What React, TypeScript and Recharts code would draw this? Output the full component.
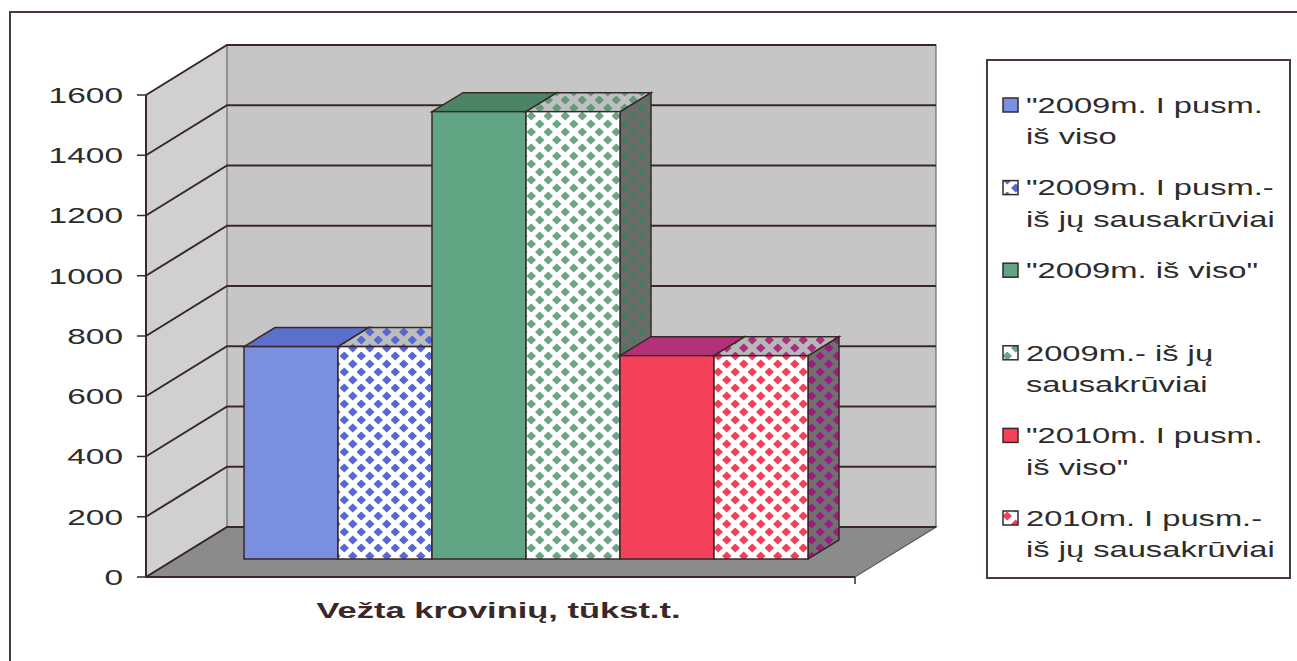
import { BarChart, Bar, XAxis, YAxis, CartesianGrid } from 'recharts'

const categories = ['Vežta krovinių, tūkst.t.']
const total2009H1 = [705]
const dry2009H1 = [705]
const total2009 = [1485]
const dry2009 = [1485]
const total2010H1 = [675]
const dry2010H1 = [675]
const yTicks = [0, 200, 400, 600, 800, 1000, 1200, 1400, 1600]

const legendLabels = [
    ['"2009m. I pusm.', 'iš viso'],
    ['"2009m. I pusm.-', 'iš jų sausakrūviai'],
    ['"2009m. iš viso"'],
    ['2009m.- iš jų', 'sausakrūviai'],
    ['"2010m. I pusm.', 'iš viso"'],
    ['2010m. I pusm.-', 'iš jų sausakrūviai'],
]

const keys = ['t09h1', 'd09h1', 't09', 'd09', 't10h1', 'd10h1']

const data = categories.map((name, i) => ({
    name,
    t09h1: total2009H1[i],
    d09h1: dry2009H1[i],
    t09: total2009[i],
    d09: dry2009[i],
    t10h1: total2010H1[i],
    d10h1: dry2010H1[i],
}))

// 3d look
const W = 1297
const H = 661
const PLOT_L = 146
const PLOT_T = 95
const PLOT_R = 855
const PLOT_B = 577
const BACK_DX = 81
const BACK_DY = -50
const SHIFT_X = 25
const SHIFT_Y = -18
const DEPTH_X = 31
const DEPTH_Y = -19
const TEXT_S = 1.52
const FONT = '"Liberation Sans", Arial, sans-serif'
const INK = '#3a2828'
const TXT = '#2c2c2c'

const styles = [
    { front: '#7b8fe0', top: '#5b6fcc', side: '#4c5fb8' },
    { front: 'url(#pBlue)', top: 'url(#pBlueTop)', side: 'url(#pBlueSide)' },
    { front: '#62a584', top: '#4c8466', side: '#3f6e55' },
    { front: 'url(#pGreen)', top: 'url(#pGreenTop)', side: 'url(#pGreenSide)' },
    { front: '#f5405a', top: '#b3307a', side: '#902060' },
    { front: 'url(#pRed)', top: 'url(#pRedTop)', side: 'url(#pRedSide)' },
]

// diamond check like the old excel fill
const diamonds = (id: string, bg: string, fg: string) => (
    <pattern id={id} key={id} width={17} height={16} patternUnits="userSpaceOnUse">
        <rect width={17} height={16} fill={bg} />
        <path
            d="M4.25,-0.6L9,4L4.25,8.6L-0.5,4Z M12.75,7.4L17.5,12L12.75,16.6L8,12Z M12.75,-8.6L17.5,-4L12.75,0.6L8,-4Z M-4.25,7.4L0.5,12L-4.25,16.6Z M21.25,7.4L17,12L21.25,16.6Z"
            fill={fg}
        />
    </pattern>
)

const makeShape = (st: { front: string; top: string; side: string }) => (p: any) => {
    const { x, y, width, height } = p
    const fx = x + SHIFT_X
    const fy = y + SHIFT_Y
    const top = `M${fx},${fy}L${fx + DEPTH_X},${fy + DEPTH_Y}L${fx + width + DEPTH_X},${fy + DEPTH_Y}L${fx + width},${fy}Z`
    const side = `M${fx + width},${fy}L${fx + width + DEPTH_X},${fy + DEPTH_Y}L${fx + width + DEPTH_X},${fy + height + DEPTH_Y}L${fx + width},${fy + height}Z`
    return (
        <g>
            <path d={side} fill={st.side} stroke={INK} strokeWidth={1.5} />
            <path d={top} fill={st.top} stroke={INK} strokeWidth={1.5} />
            <rect x={fx} y={fy} width={width} height={height} fill={st.front} stroke={INK} strokeWidth={1.5} />
        </g>
    )
}

const gridLine = (p: any) => {
    const { x1, y1, x2 } = p
    return (
        <path
            key={`g-${y1}`}
            d={`M${x1},${y1}L${x1 + BACK_DX},${y1 + BACK_DY}L${x2 + BACK_DX},${y1 + BACK_DY}`}
            fill="none"
            stroke={INK}
            strokeWidth={2}
        />
    )
}

const YTick = (p: any) => (
    <g transform={`translate(${p.x},${p.y}) scale(${TEXT_S},1)`}>
        <text x={0} y={0} dy="0.36em" textAnchor="end" fontSize={22} fill={TXT} fontFamily={FONT}>
            {p.payload.value}
        </text>
    </g>
)

const CatTick = (p: any) => (
    <g transform={`translate(${p.x - 2},${p.y + 33}) scale(1.5,1)`}>
        <text x={0} y={0} textAnchor="middle" fontSize={23} fontWeight="bold" fill={INK} fontFamily={FONT}>
            {p.payload.value}
        </text>
    </g>
)

function Backdrop() {
    const slots = legendLabels.map((_, i) => 105 + i * 82.6)
    return (
        <svg width={W} height={H} style={{ position: 'absolute', left: 0, top: 0 }}>
            <defs>
                {diamonds('pBlue', '#ffffff', '#5469d2')}
                {diamonds('pBlueTop', '#bdbdbd', '#5469d2')}
                {diamonds('pBlueSide', '#707070', '#4455b0')}
                {diamonds('pGreen', '#ffffff', '#6aa585')}
                {diamonds('pGreenTop', '#c0c0c0', '#5f9a7a')}
                {diamonds('pGreenSide', '#6c6c6c', '#4a7a5e')}
                {diamonds('pRed', '#ffffff', '#f2405a')}
                {diamonds('pRedTop', '#b8b8b8', '#a8307e')}
                {diamonds('pRedSide', '#707070', '#9a1e82')}
            </defs>
            {/* outer frame */}
            <path d={`M10,${H}L10,12L${W},12`} fill="none" stroke="#4a3a3a" strokeWidth={2} />
            {/* walls and floor */}
            <polygon
                points={`${PLOT_L},${PLOT_T} ${PLOT_L + BACK_DX},${PLOT_T + BACK_DY} ${PLOT_L + BACK_DX},${PLOT_B + BACK_DY} ${PLOT_L},${PLOT_B}`}
                fill="#d0d0d0"
            />
            <rect
                x={PLOT_L + BACK_DX}
                y={PLOT_T + BACK_DY}
                width={PLOT_R - PLOT_L}
                height={PLOT_B - PLOT_T}
                fill="#c6c6c6"
                stroke="#6a6a6a"
                strokeWidth={1.2}
            />
            <polygon
                points={`${PLOT_L},${PLOT_B} ${PLOT_R},${PLOT_B} ${PLOT_R + BACK_DX},${PLOT_B + BACK_DY} ${PLOT_L + BACK_DX},${PLOT_B + BACK_DY}`}
                fill="#8b8b8b"
                stroke="#5a5a5a"
                strokeWidth={1.2}
            />
            <line x1={PLOT_R} y1={PLOT_B} x2={PLOT_R} y2={PLOT_B + 7} stroke={INK} strokeWidth={1.5} />
            {/* legend */}
            <rect x={987} y={60} width={303} height={518} fill="#fff" stroke="#4a3a3a" strokeWidth={2} />
            {legendLabels.map((lines, i) => (
                <g key={i}>
                    <rect x={1003} y={slots[i] - 7} width={15} height={14} fill={styles[i].front} stroke={INK} strokeWidth={1.5} />
                    {lines.map((ln, j) => (
                        <g key={j} transform={`translate(1026,${slots[i] + j * 31.5}) scale(${TEXT_S},1)`}>
                            <text x={0} y={0} dy="0.36em" fontSize={21.5} fill={TXT} fontFamily={FONT}>
                                {ln}
                            </text>
                        </g>
                    ))}
                </g>
            ))}
        </svg>
    )
}

export default function App() {
    return (
        <div style={{ position: 'absolute', left: 0, top: 0, width: W, height: H, background: '#fff', overflow: 'hidden' }}>
            <Backdrop />
            <div style={{ position: 'absolute', left: 0, top: 0 }}>
                <BarChart
                    width={W}
                    height={H}
                    data={data}
                    margin={{ top: PLOT_T, left: PLOT_L - 60, right: W - PLOT_R, bottom: H - PLOT_B - 60 }}
                    barGap={0}
                    barSize={94}
                >
                    <CartesianGrid vertical={false} horizontal={gridLine} />
                    <XAxis
                        dataKey="name"
                        height={60}
                        tickLine={false}
                        axisLine={{ stroke: INK, strokeWidth: 2 }}
                        tick={<CatTick />}
                        interval={0}
                    />
                    <YAxis
                        width={60}
                        domain={[0, 1600]}
                        ticks={yTicks}
                        tickSize={9}
                        tickMargin={14}
                        axisLine={{ stroke: INK, strokeWidth: 2 }}
                        tickLine={{ stroke: INK, strokeWidth: 1.5 }}
                        tick={<YTick />}
                        interval={0}
                    />
                    {keys.map((k, i) => (
                        <Bar key={k} dataKey={k} isAnimationActive={false} shape={makeShape(styles[i])} />
                    ))}
                </BarChart>
            </div>
        </div>
    )
}
